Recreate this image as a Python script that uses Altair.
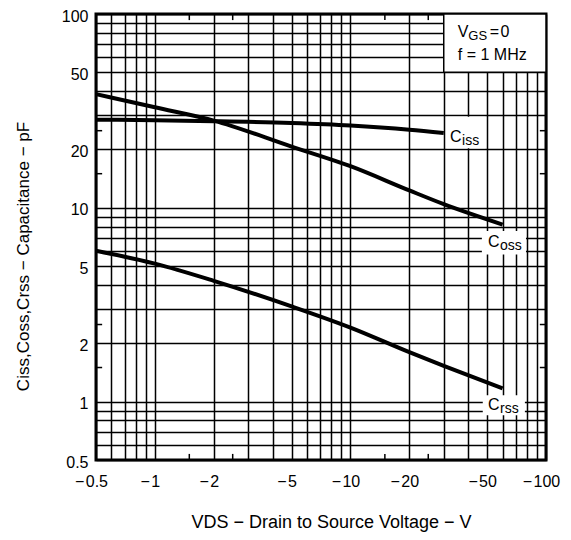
import altair as alt
import pandas as pd

# ---- data ----
ciss_vds = [-0.5, -1, -2, -5, -10, -20, -30]
ciss_pf = [28.5, 28.3, 28.0, 27.4, 26.6, 25.3, 24.3]
coss_vds = [-0.5, -1, -2, -5, -10, -20, -30, -60]
coss_pf = [38.6, 33.0, 28.2, 20.7, 16.4, 12.3, 10.45, 8.2]
crss_vds = [-0.5, -1, -2, -5, -10, -20, -30, -60]
crss_pf = [6.0, 5.15, 4.2, 3.1, 2.41, 1.8, 1.53, 1.17]

x_labels = [-0.5, -1, -2, -5, -10, -20, -50, -100]
y_labels = [0.5, 1, 2, 5, 10, 20, 50, 100]
grid_vals = [0.5, 0.6, 0.7, 0.8, 0.9, 1, 2, 3, 4, 5, 6, 7, 8, 9,
             10, 20, 30, 40, 50, 60, 70, 80, 90, 100]
minor_ticks = [1.5, 2.5, 15, 25]

curve_names = ["Ciss", "Coss", "Crss"]
label_x = [32.3, 50.5, 50.5]
label_y = [23.3, 6.64, 0.96]
label_main = ["C", "C", "C"]
label_sub = ["iss", "oss", "rss"]

FONT = "Liberation Sans"
LO, HI = 0.5, 100
TK = 1.075

rows = []
for name, vs, cs in [("Ciss", ciss_vds, ciss_pf), ("Coss", coss_vds, coss_pf), ("Crss", crss_vds, crss_pf)]:
    for v, c in zip(vs, cs):
        rows.append({"series": name, "vds": v, "x": abs(v), "y": c})
curves = pd.DataFrame(rows)

xs = alt.Scale(type="log", domain=[LO, HI], nice=False)
ys = alt.Scale(type="log", domain=[LO, HI], nice=False)

xlab_list = "[" + ",".join(str(abs(v)) for v in x_labels) + "]"
ylab_list = "[" + ",".join(str(v) for v in y_labels) + "]"

xaxis = alt.Axis(
    values=grid_vals,
    labelExpr=f"indexof({xlab_list}, datum.value) >= 0 ? '\u2212\u200a' + datum.value : ''",
    grid=True, gridColor="black", gridWidth=1.5, gridOpacity=1,
    ticks=False, domain=False,
    labelFont=FONT, labelFontSize=16, labelColor="black", labelPadding=13,
    labelOffset=-5, labelFlush=False, labelOverlap=False,
    title="VDS \u2212 Drain to Source Voltage \u2212 V",
    titleFont=FONT, titleFontSize=18, titleFontWeight="normal", titleColor="black",
    titleX=235, titleY=67, titleBaseline="alphabetic", titleAlign="center",
)
yaxis = alt.Axis(
    values=grid_vals,
    labelExpr=f"indexof({ylab_list}, datum.value) >= 0 ? '' + datum.value : ''",
    grid=True, gridColor="black", gridWidth=1.5, gridOpacity=1,
    ticks=False, domain=False,
    labelFont=FONT, labelFontSize=16, labelColor="black", labelPadding=8,
    labelOffset=2, labelFlush=False, labelOverlap=False,
    title="Ciss,Coss,Crss \u2212 Capacitance \u2212 pF",
    titleFont=FONT, titleFontSize=17, titleFontWeight="normal", titleColor="black",
    titleX=-73, titleY=242, titleBaseline="middle", titleAlign="center", titleAngle=-90,
)

def X(f="x"):
    return alt.X(f, type="quantitative", scale=xs, axis=xaxis)

def Y(f="y"):
    return alt.Y(f, type="quantitative", scale=ys, axis=yaxis)

lines = alt.Chart(curves).mark_line(color="black", strokeWidth=4, interpolate="monotone").encode(
    x=X(), y=Y(), detail="series:N"
)

# white boxes behind curve labels and the condition box
boxes = pd.DataFrame({
    "x": [31, 47, 47.5], "x2": [49, 79, 78],
    "y": [20.3, 5.75, 0.85], "y2": [29.5, 7.6, 1.08],
})
box_layer = alt.Chart(boxes).mark_rect(color="white").encode(
    x=X(), x2="x2", y=Y(), y2="y2"
)
legend_box = alt.Chart(pd.DataFrame({"x": [30], "x2": [100], "y": [50], "y2": [100]})).mark_rect(
    fill="white", stroke="black", strokeWidth=1.5
).encode(x=X(), x2="x2", y=Y(), y2="y2")

# minor edge ticks
tk = []
for v in minor_ticks:
    tk.append({"x": v, "x2": v, "y": LO, "y2": LO * TK})
    tk.append({"x": v, "x2": v, "y": HI / TK, "y2": HI})
    tk.append({"x": LO, "x2": LO * TK, "y": v, "y2": v})
    tk.append({"x": HI / TK, "x2": HI, "y": v, "y2": v})
ticks = alt.Chart(pd.DataFrame(tk)).mark_rule(color="black", strokeWidth=1.5).encode(
    x=X(), x2="x2", y=Y(), y2="y2"
)

labels = pd.DataFrame({"x": label_x, "y": label_y, "main": label_main, "sub": label_sub, "series": curve_names})
lab_main = alt.Chart(labels).mark_text(align="left", baseline="middle", font=FONT, fontSize=16, color="black").encode(
    x=X(), y=Y(), text="main:N"
)
lab_sub = alt.Chart(labels).mark_text(align="left", baseline="middle", font=FONT, fontSize=14, color="black", dx=12, dy=4).encode(
    x=X(), y=Y(), text="sub:N"
)

cond1 = pd.DataFrame({"x": [35.4], "y": [80.9], "a": ["V"], "b": ["GS"], "c": ["=\u200a0"]})
cond2 = pd.DataFrame({"x": [35.4], "y": [61.2], "t": ["f = 1 MHz"]})
c_a = alt.Chart(cond1).mark_text(align="left", baseline="middle", font=FONT, fontSize=16, color="black").encode(
    x=X(), y=Y(), text="a:N")
c_b = alt.Chart(cond1).mark_text(align="left", baseline="middle", font=FONT, fontSize=13, color="black", dx=10.5, dy=4).encode(
    x=X(), y=Y(), text="b:N")
c_c = alt.Chart(cond1).mark_text(align="left", baseline="middle", font=FONT, fontSize=16, color="black", dx=32).encode(
    x=X(), y=Y(), text="c:N")
c_2 = alt.Chart(cond2).mark_text(align="left", baseline="middle", font=FONT, fontSize=16, color="black").encode(
    x=X(), y=Y(), text="t:N")

chart = alt.layer(
    box_layer, legend_box, ticks, lines, lab_main, lab_sub, c_a, c_b, c_c, c_2
).properties(
    width=450, height=446,
    autosize=alt.AutoSizeParams(type="none"),
    padding={"left": 88, "top": 6, "right": 17, "bottom": 72},
    background="white",
).configure_view(
    stroke="black", strokeWidth=3
)

chart.save("out.html", embed_options={"renderer": "svg", "actions": False})
